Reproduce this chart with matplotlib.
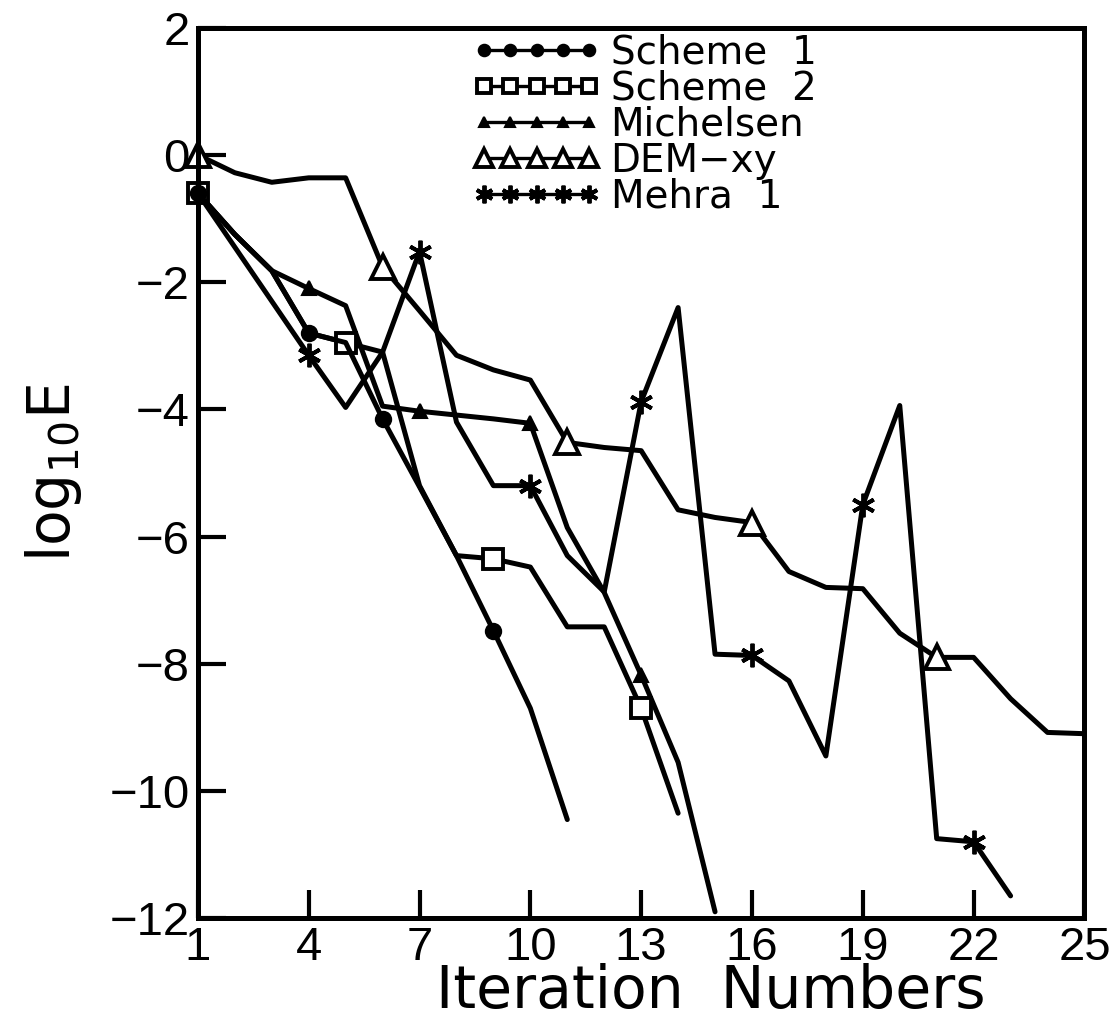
import matplotlib

matplotlib.use("Agg")
import matplotlib.pyplot as plt
from matplotlib.lines import Line2D

plt.rcParams["font.family"] = ["Liberation Sans", "DejaVu Sans"]

# log10 E per iteration
scheme1_x = list(range(1, 12))
scheme1_y = [-0.6, -1.25, -1.82, -2.8, -2.95, -4.15, -5.22, -6.3, -7.48, -8.7, -10.45]

scheme2_x = list(range(1, 15))
scheme2_y = [-0.6, -1.25, -1.82, -2.8, -2.95, -3.1, -5.2, -6.3, -6.35, -6.48,
             -7.42, -7.42, -8.7, -10.35]

michelsen_x = list(range(1, 16))
michelsen_y = [-0.6, -1.25, -1.82, -2.1, -2.37, -3.95, -4.03, -4.09, -4.15, -4.22,
               -5.86, -6.88, -8.18, -9.55, -11.9]

dem_x = list(range(1, 26))
dem_y = [0.0, -0.28, -0.43, -0.36, -0.36, -1.76, -2.45, -3.15, -3.38, -3.54,
         -4.52, -4.6, -4.65, -5.58, -5.7, -5.78, -6.55, -6.8, -6.82, -7.52,
         -7.9, -7.9, -8.55, -9.08, -9.1]

mehra_x = list(range(1, 24))
mehra_y = [-0.6, -1.45, -2.3, -3.15, -3.97, -3.1, -1.52, -4.2, -5.2, -5.2,
           -6.3, -6.87, -3.88, -2.4, -7.85, -7.87, -8.27, -9.45, -5.5, -3.94,
           -10.75, -10.8, -11.65]

# iterations that carry a symbol in the original
scheme1_marks = [0, 3, 5, 8]
scheme2_marks = [0, 4, 8, 12]
michelsen_marks = [0, 3, 6, 9, 12]
dem_marks = [0, 5, 10, 15, 20]
mehra_marks = [3, 6, 9, 12, 15, 18, 21]

labels = ["Scheme  1", "Scheme  2", "Michelsen", "DEM\u2212xy", "Mehra  1"]
xticks = [1, 4, 7, 10, 13, 16, 19, 22, 25]
yticks = [2, 0, -2, -4, -6, -8, -10, -12]

LW = 3.6
ASTER = (6, 2, 0)
styles = [
    dict(marker="o", ms=11, mfc="black", mec="black", mew=1.5),
    dict(marker="s", ms=14, mfc="white", mec="black", mew=2.8),
    dict(marker="^", ms=10, mfc="black", mec="black", mew=1.5),
    dict(marker="^", ms=17, mfc="white", mec="black", mew=2.8),
    dict(marker=ASTER, ms=17, mfc="black", mec="black", mew=2.8),
]

fig = plt.figure(figsize=(11.18, 10.27), dpi=100)
ax = fig.add_axes([0.177, 0.106, 0.793, 0.867])

series = [
    (scheme1_x, scheme1_y, scheme1_marks),
    (scheme2_x, scheme2_y, scheme2_marks),
    (michelsen_x, michelsen_y, michelsen_marks),
    (dem_x, dem_y, dem_marks),
    (mehra_x, mehra_y, mehra_marks),
]
# draw in reverse so the filled symbols at iteration 1 sit on top
for (xs, ys, marks), st in reversed(list(zip(series, styles))):
    ax.plot(xs, ys, color="black", lw=LW, markevery=marks, clip_on=False,
            solid_joinstyle="round", solid_capstyle="round", **st)

ax.set_xlim(1, 25)
ax.set_ylim(-12, 2)
ax.set_xticks(xticks)
ax.set_yticks(yticks)
ax.tick_params(direction="in", length=20, width=3, labelsize=34, pad=6,
               top=False, right=False)
for sp in ax.spines.values():
    sp.set_linewidth(3.6)

ax.set_xlabel("Iteration  Numbers", fontsize=42, family="DejaVu Sans", va="top")
ax.xaxis.set_label_coords(0.578, -0.05)
ax.set_ylabel(r"$\mathregular{log_{10}E}$", fontsize=42, family="DejaVu Sans",
              labelpad=18)

handles = [Line2D([], [], color="black", lw=2.4, **{**st, "ms": st["ms"] * 0.75})
           for st in styles]
ax.legend(handles, labels, loc="upper left", bbox_to_anchor=(0.29, 1.013),
          frameon=False, numpoints=5, handlelength=3.3, handletextpad=0.25,
          labelspacing=-0.05, borderaxespad=0.05,
          prop={"family": "DejaVu Sans", "size": 28})

fig.savefig("out.png", dpi=100)
